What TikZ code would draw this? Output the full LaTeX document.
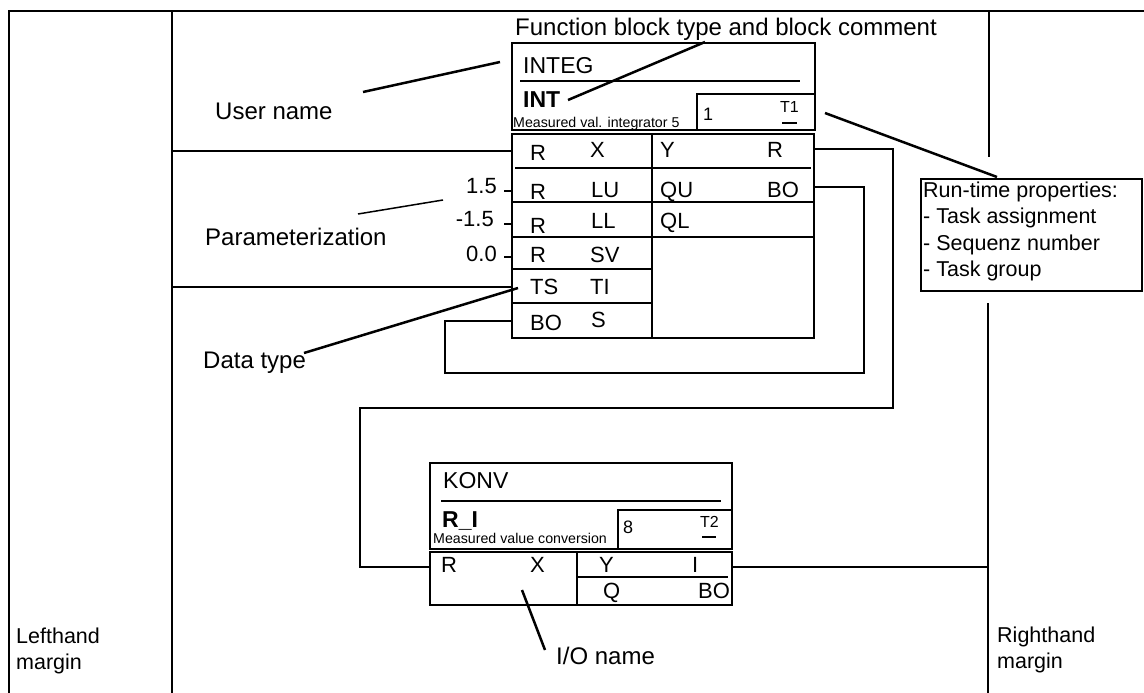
\documentclass[tikz,border=0pt]{standalone}
\usepackage{fontspec}
\setmainfont{Liberation Sans}
\begin{document}
\begin{tikzpicture}[x=1pt,y=-1pt,line join=miter,
  wire/.style={line width=2.5pt},
  frame/.style={line width=2pt},
  hair/.style={line width=1.1pt},
  leader/.style={line width=1.5pt},
  lbl/.style={font=\fontsize{24}{28}\selectfont,inner sep=0pt,anchor=base west},
  mlbl/.style={font=\fontsize{21.5}{25}\selectfont,inner sep=0pt,anchor=base west},
  port/.style={font=\fontsize{22}{26}\selectfont,inner sep=0pt,anchor=base west},
  parval/.style={font=\fontsize{22}{26}\selectfont,inner sep=0pt,anchor=base east},
  title/.style={font=\fontsize{23}{27}\selectfont,inner sep=0pt,anchor=base west},
  cmt/.style={font=\fontsize{14.2}{17}\selectfont,inner sep=0pt,anchor=base west},
  seqno/.style={font=\fontsize{18}{21}\selectfont,inner sep=0pt,anchor=base west},
  task/.style={font=\fontsize{16}{19}\selectfont,inner sep=0pt,anchor=base west}]
\useasboundingbox (0,0) rectangle (1144,693);

% sheet frame and margins
\draw[frame] (9,693) -- (9,11) -- (1144,11);
\draw[frame] (172,11) -- (172,693);
\draw[frame] (989,11) -- (989,157);
\draw[hair] (988,303) -- (988,693);
\node[mlbl] (lm1) at (16,643) {Lefthand};
\node[mlbl] (lm2) at (16,669) {margin};
\node[mlbl] (rm1) at (997,642) {Righthand};
\node[mlbl] (rm2) at (997,668) {margin};

% ---------- block INTEG ----------
\draw[wire] (512,43) rectangle (815,130);
\draw[wire] (520,81) -- (800,81);
\node[title] (integ) at (523,74) {INTEG};
\node[title,font=\fontsize{23}{27}\selectfont\bfseries] (int) at (523,107) {INT};
\node[cmt] (cmtA) at (513,127) {Measured val. integrator 5};
\draw[wire] (697,130) -- (697,94) -- (815,94);
\node[seqno] (seqA) at (703,121) {1};
\node[task] (taskA) at (780,112) {T1};
\draw[wire] (782,123) -- (797,123);

% body
\draw[wire] (512,134) rectangle (814,338);
\draw[wire] (652,134) -- (652,338);
\draw[wire] (515,168) -- (811,168);
\draw[wire] (512,202) -- (814,202);
\draw[wire] (512,237) -- (814,237);
\draw[wire] (512,269) -- (652,269);
\draw[wire] (512,303) -- (652,303);

\node[port] at (530,160) {R};
\node[port] at (590,157) {X};
\node[port] at (660,157) {Y};
\node[port] at (767,157) {R};
\node[port] at (530,199) {R};
\node[port] at (591,197) {LU};
\node[port] at (660,197) {QU};
\node[port] at (767,197) {BO};
\node[port] at (530,233) {R};
\node[port] at (591,228) {LL};
\node[port] at (660,228) {QL};
\node[port] at (530,262) {R};
\node[port] at (590,262) {SV};
\node[port] at (530,294) {TS};
\node[port] at (590,294) {TI};
\node[port] at (530,330) {BO};
\node[port] at (591,327) {S};

% parameter values on the inputs
\node[parval] (pLU) at (497,193) {1.5};
\node[parval] (pLL) at (494,226) {-1.5};
\node[parval] (pSV) at (497,261) {0.0};
\draw[wire] (504,191) -- (511,191);
\draw[wire] (504,224) -- (511,224);
\draw[wire] (504,257) -- (511,257);

% pin coordinates
\coordinate (inX)  at (512,151);
\coordinate (inTS) at (512,287);
\coordinate (inBO) at (512,321);
\coordinate (outR) at (814,149);
\coordinate (outBO) at (814,187);

% ---------- block KONV ----------
\draw[wire] (430,463) rectangle (732,549);
\draw[wire] (441,501) -- (721,501);
\node[title] (konv) at (443,488) {KONV};
\node[title,font=\fontsize{23}{27}\selectfont\bfseries] (ri) at (442,527) {R\_I};
\node[cmt] (cmtB) at (433,543) {Measured value conversion};
\draw[wire] (618,549) -- (618,510) -- (732,510);
\node[seqno] (seqB) at (623,533) {8};
\node[task] (taskB) at (700,527) {T2};
\draw[wire] (702,537) -- (716,537);

\draw[wire] (430,552) rectangle (732,605);
\draw[wire] (577,552) -- (577,605);
\draw[wire] (578,577) -- (728,577);
\node[port] at (441,572) {R};
\node[port] at (530,572) {X};
\node[port] at (599,572) {Y};
\node[port] at (692,572) {I};
\node[port] at (603,598) {Q};
\node[port] at (698,598) {BO};

\coordinate (kinR)  at (430,567);
\coordinate (koutI) at (732,567);
\coordinate (rmarg) at (989,567);
\coordinate (lmargX) at (172,151);
\coordinate (lmargTS) at (172,287);

% ---------- connections ----------
\draw[wire] (lmargX) -- (inX);
\draw[wire] (lmargTS) -- (inTS);
\draw[wire] (inBO) -- (445,321) -- (445,373) -- (864,373) -- (864,187) -- (outBO);
\draw[wire] (outR) -- (893,149) -- (893,408) -- (360,408) -- (360,567) -- (kinR);
\draw[wire] (koutI) -- (rmarg);

% ---------- run-time properties ----------
\draw[frame] (921,179) rectangle (1142,291);
\node[mlbl] (rt1) at (923,197) {Run-time properties:};
\node[mlbl] (rt2) at (923,223) {- Task assignment};
\node[mlbl] (rt3) at (923,250) {- Sequenz number};
\node[mlbl] (rt4) at (923,276) {- Task group};

% ---------- annotations ----------
\node[lbl] (fbt) at (515,36) {Function block type and block comment};
\node[lbl] (user) at (215,120) {User name};
\node[lbl] (param) at (205,245) {Parameterization};
\node[lbl] (dtype) at (203,368) {Data type};
\node[lbl] (ioname) at (556,664) {I/O name};

\coordinate (userA) at (363,92);
\coordinate (userB) at (500,62);
\coordinate (fbtA) at (705,42);
\coordinate (fbtB) at (568,100);
\coordinate (rtA) at (825,113);
\coordinate (rtB) at (997,177);
\coordinate (parA) at (358,214);
\coordinate (parB) at (443,200);
\coordinate (dtA) at (304,353);
\coordinate (dtB) at (518,288);
\coordinate (ioA) at (545,650);
\coordinate (ioB) at (522,590);

\draw[wire] (userA) -- (userB);
\draw[wire] (fbtA) -- (fbtB);
\draw[wire] (rtA) -- (rtB);
\draw[leader] (parA) -- (parB);
\draw[wire] (dtA) -- (dtB);
\draw[wire] (ioA) -- (ioB);
\end{tikzpicture}
\end{document}
